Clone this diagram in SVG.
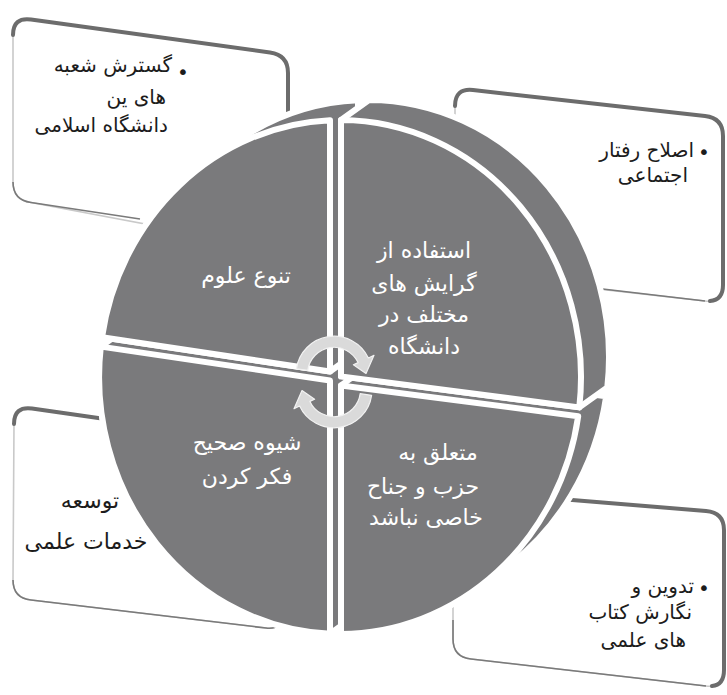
<svg xmlns="http://www.w3.org/2000/svg" width="727" height="695" viewBox="0 0 727 695">
<style>
.bg{fill:#ffffff}
.box{fill:#ffffff;stroke:#c9c9c9;stroke-width:1.6}
.edge{fill:none;stroke:#6c6c6c;stroke-width:4;stroke-linecap:round;stroke-linejoin:round}
.low{fill:none;stroke:#7a7a7a;stroke-width:1.6}
.piece{fill:#7a7a7c;stroke:#ffffff;stroke-width:6;stroke-linejoin:round}
.arrow{fill:#dadada;stroke:#f2f2f2;stroke-width:1.2;stroke-linejoin:round}
.ct{fill:#ffffff;font-family:"DejaVu Sans",sans-serif;font-size:22px;text-anchor:middle}
.bt{fill:#1c1c1c;font-family:"DejaVu Sans",sans-serif;font-size:20px;text-anchor:end}
.bm{fill:#1c1c1c;font-family:"DejaVu Sans",sans-serif;font-size:22px;text-anchor:middle}
.bul{fill:#1c1c1c;font-family:"DejaVu Sans",sans-serif;font-size:20px;text-anchor:middle}
</style>
<rect class="bg" x="0" y="0" width="727" height="695"/>

<g id="box-top-left">
<path class="box" d="M 13 35 Q 13 17 31 19.5 L 270 52.5 Q 288 55 288 73 L 288 232 Q 288 250 270 247.5 L 31 202.5 Q 13 200 13 182 Z"/>
<path class="edge" d="M 13 35 Q 13 17 31 19.5 L 270 52.5 Q 288 55 288 73 L 288 120"/>
<path class="low" d="M 13 182 Q 13 200 31 202.5 L 140 219"/>
<text class="bul" x="183" y="79">•</text>
<text class="bt" x="172" y="72">گسترش شعبه</text>
<text class="bt" x="166" y="104">های ین</text>
<text class="bt" x="168" y="132">دانشگاه اسلامی</text>
</g>

<g id="box-top-right">
<path class="box" d="M 455 106 Q 455 88 473 90 L 705 116 Q 723 118 723 136 L 723 285 Q 723 303 705 301 L 473 275 Q 455 273 455 255 Z"/>
<path class="edge" d="M 455 106 Q 455 88 473 90 L 705 116 Q 723 118 723 136 L 723 285 Q 723 300 710 301"/>
<path class="low" d="M 560 284 L 705 301"/>
<text class="bul" x="704" y="159">•</text>
<text class="bt" x="694" y="157">اصلاح رفتار</text>
<text class="bt" x="688" y="182">اجتماعی</text>
</g>

<g id="box-bottom-left">
<path class="box" d="M 14 424 Q 14 406 32 408.5 L 290 446 L 284 612 Q 284 630 266 628 L 31 600 Q 13 598 13 580 Z"/>
<path class="edge" d="M 14 424 Q 14 406 32 408.5 L 140 424"/>
<path class="low" d="M 13 580 Q 13 598 31 600 L 266 628 Q 284 630 284 612"/>
<text class="bm" x="90" y="508">توسعه</text>
<text class="bm" x="86" y="549">خدمات علمی</text>
</g>

<g id="box-bottom-right">
<path class="box" d="M 453 508 Q 453 490 471 491.5 L 706 511 Q 724 512.5 724 530 L 724 670 Q 724 688 706 686 L 471 659 Q 453 657 453 639 Z"/>
<path class="edge" d="M 560 499 L 706 511 Q 724 512.5 724 530 L 724 670 Q 724 685 712 686"/>
<path class="low" d="M 453 620 L 453 639 Q 453 657 471 659 L 706 686"/>
<text class="bul" x="704" y="595">•</text>
<text class="bt" x="694" y="593">تدوین و</text>
<text class="bt" x="692" y="619">نگارش کتاب</text>
<text class="bt" x="686" y="647">های علمی</text>
</g>

<g id="circle">
<g id="piece-bottom-left">
<path class="piece" d="M 330 633.8 A 241 257 0 0 1 100.8 346.6 L 128.8 326.6 L 358 360.5 L 358 613.8 Z"/>
<path class="piece" d="M 330 633.8 A 241 257 0 0 1 100.8 346.6 L 330 380.5 Z"/>
<text class="ct" x="247" y="450">شیوه صحیح</text>
<text class="ct" x="247" y="484">فکر کردن</text>
</g>
<g id="piece-bottom-right">
<path class="piece" d="M 341 385.4 L 341 634 A 241 257 0 0 0 474.1 590.6 L 502.1 570.6 A 241 257 0 0 0 606.2 396.2 L 369 365.4 Z"/>
<path class="piece" d="M 578.2 416.2 A 241 257 0 0 1 341 634 L 341 385.4 Z"/>
<text class="ct" x="438" y="460">متعلق به</text>
<text class="ct" x="423" y="494">حزب و جناح</text>
<text class="ct" x="426" y="525">خاصی نباشد</text>
</g>
<g id="piece-top-left">
<path class="piece" d="M 205.9 163.4 A 241 257 0 0 0 102 337.3 L 330 371.5 L 358 351.5 L 358 100.2 A 241 257 0 0 0 233.9 143.4 Z"/>
<path class="piece" d="M 102 337.3 A 241 257 0 0 1 330 120.2 L 330 371.5 Z"/>
<text class="ct" x="246" y="283">تنوع علوم</text>
</g>
<g id="piece-top-right">
<path class="piece" d="M 341 120 L 341 376.4 L 579.3 407.4 L 607.3 387.4 A 241 257 0 0 0 369 100 Z"/>
<path class="piece" d="M 341 120 A 241 257 0 0 1 579.3 407.4 L 341 376.4 Z"/>
<text class="ct" x="424" y="258">استفاده از</text>
<text class="ct" x="424" y="291">گرایش های</text>
<text class="ct" x="424" y="322">مختلف در</text>
<text class="ct" x="424" y="354">دانشگاه</text>
</g>
</g>

<g id="connectors">
<path class="arrow" d="M 296.4 368.9 A 38 38 0 0 1 368.4 358 L 374 355.3 L 366 373.5 L 353.4 364.7 L 358.1 362.6 A 26.5 26.5 0 0 0 307.8 370.3 Z"/>
<path class="arrow" d="M 371.6 395.3 A 38 38 0 0 1 299.6 406 L 294 408.7 L 302 390.5 L 314.6 399.3 L 309.9 401.4 A 26.5 26.5 0 0 0 360.2 393.7 Z"/>
</g>
</svg>
